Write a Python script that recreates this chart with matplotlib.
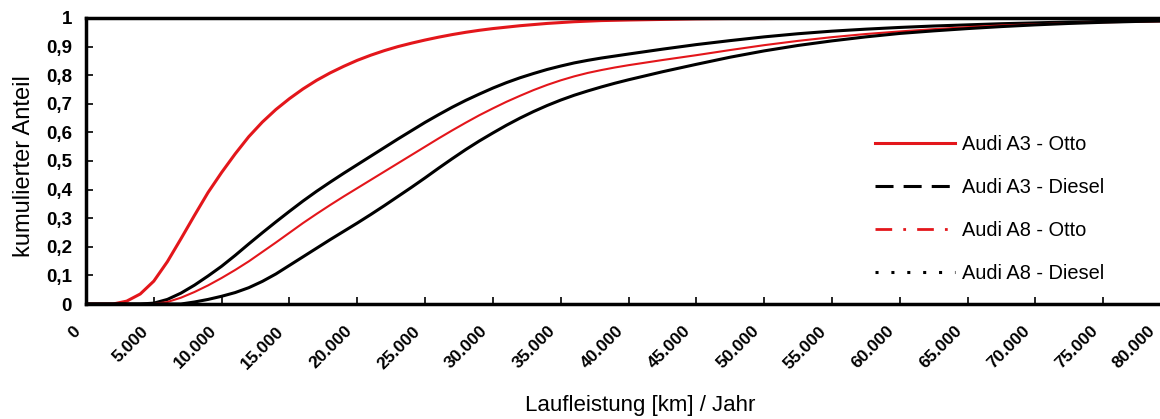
import matplotlib
matplotlib.use("Agg")
import matplotlib.pyplot as plt
from matplotlib.lines import Line2D
from matplotlib.ticker import FuncFormatter
from matplotlib.transforms import ScaledTranslation

plt.rcParams['font.family'] = ['Liberation Sans', 'DejaVu Sans']

# Laufleistung [km] / Jahr
km = [0, 1000, 2000, 3000, 4000, 5000, 6000, 7000, 8000, 9000,
      10000, 11000, 12000, 13000, 14000, 15000, 16000, 17000, 18000, 19000,
      20000, 21000, 22000, 23000, 24000, 25000, 26000, 27000, 28000, 29000,
      30000, 31000, 32000, 33000, 34000, 35000, 36000, 37000, 38000, 39000,
      40000, 42500, 45000, 47500, 50000, 52500, 55000, 57500, 60000, 62500,
      65000, 67500, 70000, 72500, 75000, 77500, 80000]

a3_otto = [0, 0, 0, 0.01, 0.035, 0.08, 0.148, 0.228, 0.31, 0.39,
           0.46, 0.525, 0.585, 0.636, 0.68, 0.718, 0.752, 0.782, 0.808, 0.831,
           0.852, 0.87, 0.886, 0.9, 0.912, 0.923, 0.933, 0.942, 0.95, 0.957,
           0.963, 0.968, 0.973, 0.977, 0.981, 0.984, 0.987, 0.989, 0.991, 0.992,
           0.993, 0.995, 0.997, 0.998, 0.998, 0.999, 0.999, 1.0, 1.0, 1.0,
           1.0, 1.0, 1.0, 1.0, 1.0, 1.0, 1.0]

a3_diesel = [0, 0, 0, 0, 0, 0.003, 0.016, 0.038, 0.066, 0.098,
             0.132, 0.17, 0.21, 0.249, 0.287, 0.324, 0.36, 0.394, 0.426, 0.457,
             0.487, 0.517, 0.547, 0.577, 0.606, 0.635, 0.662, 0.688, 0.712, 0.734,
             0.755, 0.774, 0.791, 0.806, 0.82, 0.832, 0.843, 0.852, 0.86, 0.867,
             0.874, 0.891, 0.907, 0.921, 0.934, 0.945, 0.954, 0.961, 0.967, 0.972,
             0.976, 0.98, 0.983, 0.986, 0.988, 0.99, 0.991]

a8_otto = [0, 0, 0, 0, 0, 0, 0.007, 0.022, 0.042, 0.065,
           0.091, 0.119, 0.149, 0.182, 0.215, 0.249, 0.283, 0.315, 0.346, 0.376,
           0.405, 0.434, 0.463, 0.492, 0.521, 0.55, 0.579, 0.607, 0.634, 0.66,
           0.684, 0.707, 0.728, 0.748, 0.766, 0.782, 0.796, 0.808, 0.818, 0.827,
           0.835, 0.853, 0.87, 0.888, 0.905, 0.92, 0.933, 0.944, 0.953, 0.961,
           0.968, 0.974, 0.978, 0.982, 0.985, 0.987, 0.989]

a8_diesel = [0, 0, 0, 0, 0, 0, 0, 0, 0.007, 0.016,
             0.027, 0.04, 0.057, 0.079, 0.105, 0.135, 0.165, 0.195, 0.225, 0.254,
             0.283, 0.313, 0.344, 0.376, 0.408, 0.441, 0.475, 0.508, 0.54, 0.57,
             0.598, 0.625, 0.65, 0.673, 0.694, 0.713, 0.73, 0.745, 0.759, 0.772,
             0.784, 0.812, 0.838, 0.863, 0.885, 0.904, 0.92, 0.934, 0.946, 0.955,
             0.963, 0.97, 0.976, 0.981, 0.985, 0.988, 0.99]

labels = ["Audi A3 - Otto", "Audi A3 - Diesel", "Audi A8 - Otto", "Audi A8 - Diesel"]
red = "#e3161b"

fig = plt.figure(figsize=(11.6, 4.19), dpi=100)
ax = fig.add_axes([86 / 1160, 115 / 419, 1085 / 1160, 286 / 419])

# im Diagramm selbst sind alle Kurven durchgezogen
ax.plot(km, a3_otto, color=red, lw=2.2)
ax.plot(km, a3_diesel, color="black", lw=2.2)
ax.plot(km, a8_otto, color=red, lw=1.5)
ax.plot(km, a8_diesel, color="black", lw=2.2)

ax.set_xlim(0, 80000)
ax.set_ylim(0, 1)
ax.set_xticks(range(0, 80001, 5000))
ax.set_yticks([i / 10 for i in range(11)])

ax.xaxis.set_major_formatter(FuncFormatter(lambda v, p: f"{int(v):,}".replace(",", ".")))
ax.yaxis.set_major_formatter(FuncFormatter(lambda v, p: "0" if v == 0 else ("1" if v == 1 else f"{v:.1f}".replace(".", ","))))

for s in ax.spines.values():
    s.set_linewidth(2.5)
ax.tick_params(direction="in", length=5, width=1.2)
ax.tick_params(axis="y", labelsize=13.5, pad=10)
ax.tick_params(axis="x", labelsize=12.5, pad=14)
for t in ax.get_yticklabels():
    t.set_fontweight("bold")
xlabels = ax.get_xticklabels()
for i, t in enumerate(xlabels):
    # letztes Label etwas weiter nach links, damit es ins Bild passt
    dx = -13 if i < len(xlabels) - 1 else -24
    t.set_fontweight("bold")
    t.set_rotation(45)
    t.set_ha("right")
    t.set_va("top")
    t.set_rotation_mode("anchor")
    t.set_transform(t.get_transform() + ScaledTranslation(dx / 100, 0, fig.dpi_scale_trans))

ax.set_ylabel("kumulierter Anteil", fontsize=17)
ax.yaxis.set_label_coords(-0.047, 0.483)
ax.set_xlabel("Laufleistung [km] / Jahr", fontsize=16)
ax.xaxis.set_label_coords(0.511, -0.318)

handles = [
    Line2D([], [], color=red, lw=2.2, ls="-"),
    Line2D([], [], color="black", lw=2.2, ls=(0, (5.9, 3.3))),
    Line2D([], [], color=red, lw=2.0, ls=(0, (6, 4, 1, 4))),
    Line2D([], [], color="black", lw=2.2, ls=(0, (1, 4.2))),
]
ax.legend(handles, labels, loc="upper left", bbox_to_anchor=(0.72, 0.618),
          frameon=False, fontsize=14.4, handlelength=4.0, handletextpad=0.35,
          labelspacing=1.19, borderaxespad=0)

fig.savefig("out.png", dpi=100)
